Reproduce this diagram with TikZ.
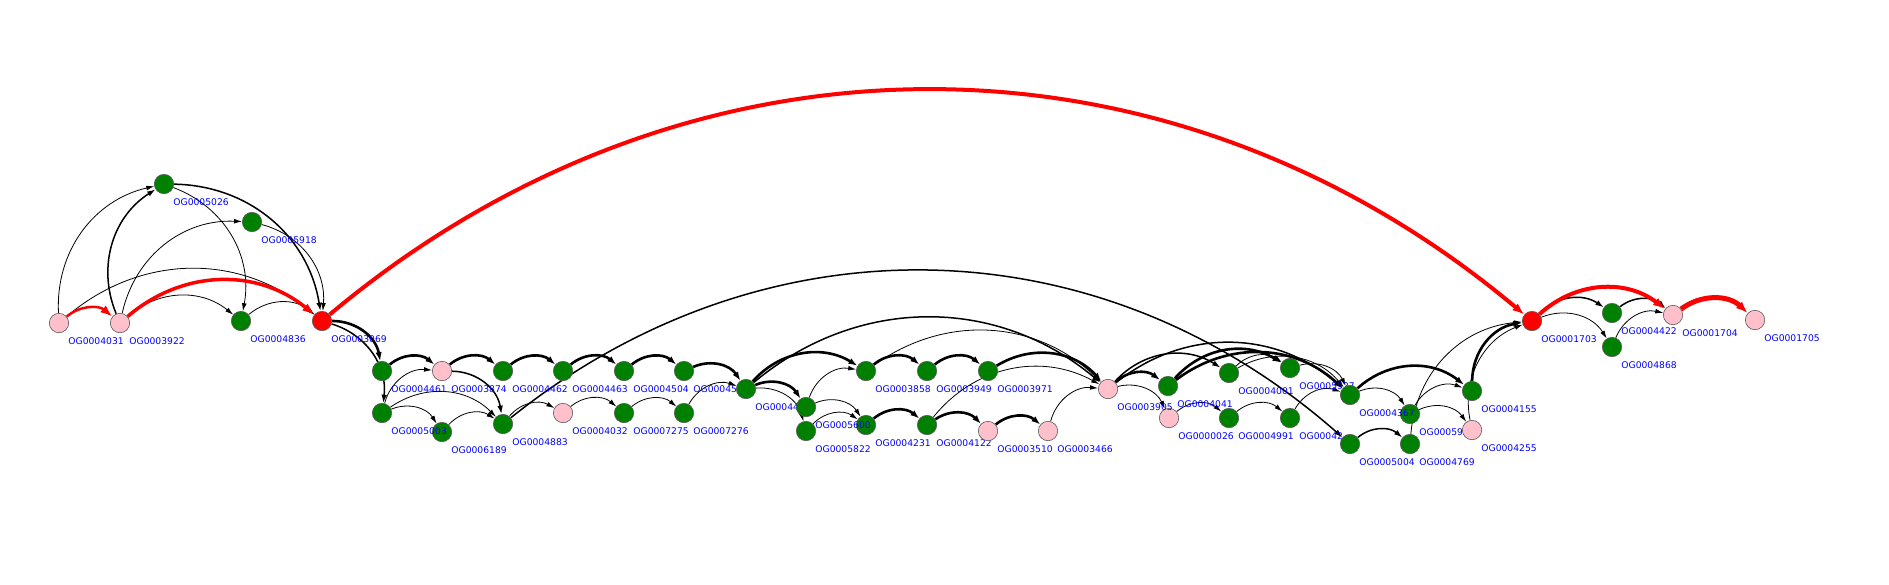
\documentclass[tikz,border=0pt]{standalone}
\usepackage{fontspec}
\newfontfamily\lblfont{DejaVu Sans}
\usetikzlibrary{arrows.meta}
\definecolor{OGGreen}{HTML}{008000}
\definecolor{OGPink}{HTML}{FFC0CB}
\definecolor{OGRed}{HTML}{FF0000}
\definecolor{OGBlue}{HTML}{0000FF}
\pgfdeclarelayer{edges}
\pgfsetlayers{edges,main}

\begin{document}
\begin{tikzpicture}[x=0.5pt,y=-0.5pt,
    og/.style={circle,draw=black!65,line width=0.3pt,minimum size=9.7pt,inner sep=0pt},
    oglabel/.style={font=\lblfont\fontsize{4.6}{5}\selectfont,text=OGBlue,anchor=west,inner sep=0pt},
    arcthin/.style={line width=0.4pt,-{Latex[length=4pt,width=2.4pt]},bend left=40},
    arcmid/.style={line width=0.75pt,-{Latex[length=4.2pt,width=2.8pt]},bend left=40},
    arcthick/.style={line width=1.3pt,-{Latex[length=4.5pt,width=3.2pt]},bend left=40},
    arcred/.style={OGRed,-{Latex[length=6pt,width=4.5pt]},bend left=40}]
  \useasboundingbox (0,0) rectangle (1889,584);
  % nodes, left to right, each with its name below right
  \foreach \nm/\x/\y/\col/\txt in {
      g4031/59/323/OGPink/OG0004031, g3922/120/323/OGPink/OG0003922,
      g5026/164/184/OGGreen/OG0005026, g4836/241/321/OGGreen/OG0004836,
      g5918/252/222/OGGreen/OG0005918, g3069/322/321/OGRed/OG0003069,
      g4461/382/371/OGGreen/OG0004461, g6189/442/432/OGGreen/OG0006189,
      g5003/382/413/OGGreen/OG0005003, g3874/442/371/OGPink/OG0003874,
      g4462/503/371/OGGreen/OG0004462, g4883/503/424/OGGreen/OG0004883,
      g4463/563/371/OGGreen/OG0004463, g4032/563/413/OGPink/OG0004032,
      g4504/624/371/OGGreen/OG0004504, g7275/624/413/OGGreen/OG0007275,
      g45/684/371/OGGreen/OG00045, g7276/684/413/OGGreen/OG0007276,
      g44/746/389/OGGreen/OG00044, g4231/866/425/OGGreen/OG0004231,
      g5600/806/407/OGGreen/OG0005600, g5822/806/431/OGGreen/OG0005822,
      g3858/866/371/OGGreen/OG0003858, g3949/927/371/OGGreen/OG0003949,
      g4122/927/425/OGGreen/OG0004122, g3971/988/371/OGGreen/OG0003971,
      g3510/988/431/OGPink/OG0003510, g3466/1048/431/OGPink/OG0003466,
      g0026/1169/418/OGPink/OG0000026, g3905/1108/389/OGPink/OG0003905,
      g4041/1168/386/OGGreen/OG0004041, g4001/1229/373/OGGreen/OG0004001,
      g4991/1229/418/OGGreen/OG0004991, g5927/1290/368/OGGreen/OG0005927,
      g42/1290/418/OGGreen/OG00042, g59/1410/414/OGGreen/OG00059,
      g4367/1350/395/OGGreen/OG0004367, g5004/1350/444/OGGreen/OG0005004,
      g4769/1410/444/OGGreen/OG0004769, g4155/1472/391/OGGreen/OG0004155,
      g4255/1472/430/OGPink/OG0004255, g1703/1532/321/OGRed/OG0001703,
      g4422/1612/313/OGGreen/OG0004422, g4868/1612/347/OGGreen/OG0004868,
      g1704/1673/315/OGPink/OG0001704, g1705/1755/320/OGPink/OG0001705}{
    \node[og,fill=\col] (\nm) at (\x,\y) {};
    \node[oglabel] (l\nm) at (\x+9,\y+18) {\txt};}
  \begin{pgfonlayer}{edges}
    \foreach \a/\b in {g4031/g5026, g4031/g3069, g3922/g5918, g3922/g4836,
        g5026/g4836, g5918/g3069, g4836/g3069, g5003/g3874, g5003/g6189,
        g5003/g4883, g6189/g4883, g4883/g4032, g4032/g7275, g7275/g7276,
        g7276/g44, g44/g5822, g5600/g3858, g5600/g4231, g5822/g4231,
        g3858/g3905, g4122/g3905, g3466/g3905, g3905/g0026, g4001/g5927,
        g4001/g4367, g5927/g4367, g0026/g4991, g4991/g42, g42/g4367,
        g4367/g59, g4769/g1703, g59/g4155, g59/g4255, g4255/g1703,
        g1703/g4868, g4868/g1704}
      \draw[arcthin] (\a) to (\b);
    \foreach \a/\b in {g3922/g5026, g5026/g3069, g3069/g5003, g3874/g4883,
        g4883/g5004, g44/g3905, g3905/g4001, g3905/g4367, g5004/g4769,
        g1703/g4422, g4422/g1704}
      \draw[arcmid] (\a) to (\b);
    \foreach \a/\b in {g3069/g4461, g4461/g3874, g3874/g4462, g4462/g4463,
        g4463/g4504, g4504/g45, g45/g44, g44/g3858, g44/g5600, g3858/g3949,
        g3949/g3971, g3971/g3905, g4231/g4122, g4122/g3510, g3510/g3466,
        g3905/g4041, g4041/g5927, g4041/g4367, g4367/g4155, g4155/g1703}
      \draw[arcthick] (\a) to (\b);
    \foreach \a/\b/\w in {g4031/g3922/1.25, g3922/g3069/1.75, g3069/g1703/2,
        g1703/g1704/2, g1704/g1705/2.5}
      \draw[arcred,line width=\w pt] (\a) to (\b);
  \end{pgfonlayer}
\end{tikzpicture}
\end{document}
